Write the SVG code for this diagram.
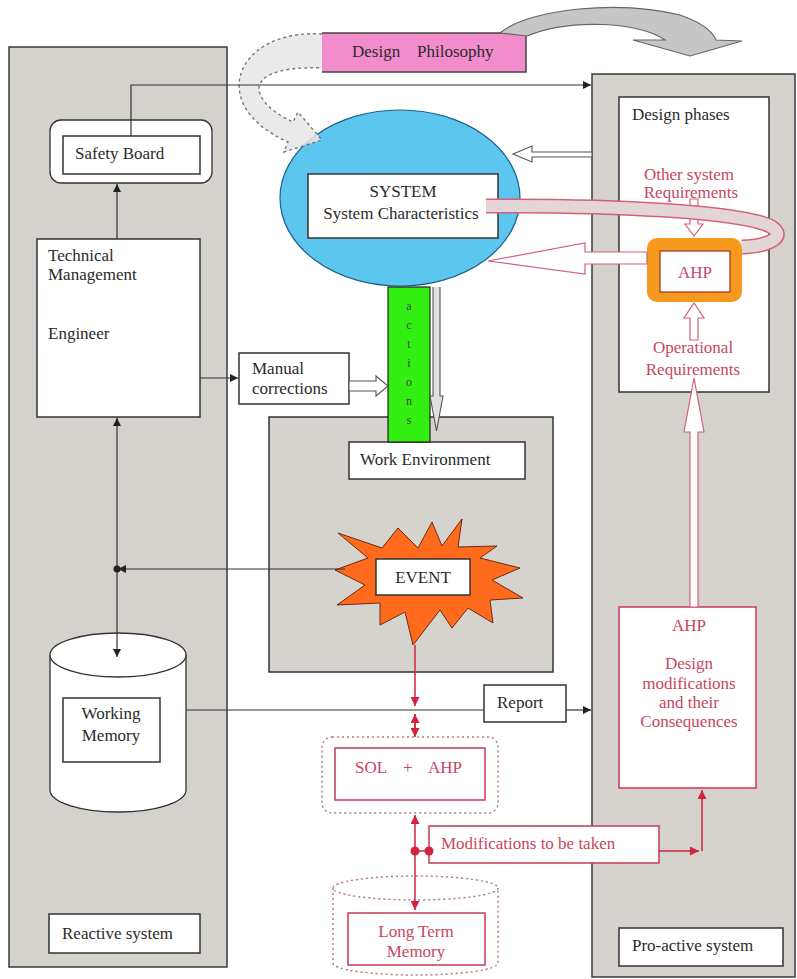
<svg xmlns="http://www.w3.org/2000/svg" width="797" height="979" viewBox="0 0 797 979">
  <defs>
    <style>
      .t{font-family:"Liberation Serif","Times New Roman",serif;font-size:17px;fill:#2b2b2b}
      .r{fill:#c8465e}
      .c{text-anchor:middle}
      .small{font-size:12px;fill:#444}
      .panel{fill:#d5d1cc;stroke:#3a3a3a;stroke-width:1.5}
      .box{fill:#fff;stroke:#333;stroke-width:1.5}
      .rbox{fill:#fff;stroke:#c83a55;stroke-width:1.5}
      .ln{fill:none;stroke:#333;stroke-width:1.2}
      .rln{fill:none;stroke:#d0243f;stroke-width:1.5}
      .dot{fill:none;stroke:#b07a88;stroke-width:1.5;stroke-dasharray:2 3}
      .hol{fill:#fff;stroke:#d4607a;stroke-width:1.2}
      .gholl{fill:#fff;stroke:#555;stroke-width:1.1}
    </style>
    <marker id="ah" viewBox="0 0 10 10" refX="10" refY="5" markerWidth="8" markerHeight="8" markerUnits="userSpaceOnUse" orient="auto-start-reverse">
      <path d="M0,0 L10,5 L0,10 z" fill="#222"/>
    </marker>
    <marker id="rh" viewBox="0 0 10 10" refX="10" refY="5" markerWidth="9" markerHeight="9" markerUnits="userSpaceOnUse" orient="auto-start-reverse">
      <path d="M0,0 L10,5 L0,10 z" fill="#d0243f"/>
    </marker>
  </defs>

  <rect width="797" height="979" fill="#fff"/>

  <!-- Reactive system panel -->
  <g id="reactive-panel">
    <rect class="panel" x="9" y="47" width="218" height="920"/>
  </g>

  <!-- Pro-active system panel -->
  <g id="proactive-panel">
    <rect class="panel" x="592" y="74" width="203" height="903"/>
  </g>

  <!-- Work environment block -->
  <g id="work-environment">
    <rect x="269" y="417" width="284" height="255" fill="#d6d2cd" stroke="#333" stroke-width="1.5"/>
    <rect class="box" x="349" y="442" width="176" height="37"/>
    <text class="t" x="360" y="465">Work Environment</text>
  </g>

  <!-- System ellipse -->
  <g id="system">
    <ellipse cx="400" cy="198" rx="120" ry="88" fill="#5cc6ee" stroke="#1d5f8f" stroke-width="1.2"/>
    <rect class="box" x="308" y="174" width="190" height="64"/>
    <text class="t c" x="403" y="197">SYSTEM</text>
    <text class="t c" x="401" y="219">System Characteristics</text>
  </g>

  <!-- Actions bar -->
  <g id="actions">
    <rect x="388" y="287" width="42" height="155" fill="#33ee11" stroke="#222" stroke-width="1.2"/>
    <text class="t small c" x="409" y="310">a</text>
    <text class="t small c" x="409" y="329">c</text>
    <text class="t small c" x="409" y="348">t</text>
    <text class="t small c" x="409" y="367">i</text>
    <text class="t small c" x="409" y="386">o</text>
    <text class="t small c" x="409" y="405">n</text>
    <text class="t small c" x="409" y="424">s</text>
  </g>

  <!-- Design philosophy -->
  <g id="design-philosophy">
    <rect x="322" y="33" width="204" height="39" fill="#f28ccd"/>
    <path d="M322,33 H526 V72 H322" fill="none" stroke="#444" stroke-width="1.5"/>
    <text class="t" x="352" y="57">Design</text>
    <text class="t" x="417" y="57">Philosophy</text>
  </g>

  <!-- Safety board -->
  <g id="safety-board">
    <rect x="50" y="120" width="162" height="63" rx="11" fill="#fff" stroke="#333" stroke-width="1.3"/>
    <rect class="box" x="63" y="136" width="137" height="38"/>
    <text class="t" x="75" y="159">Safety Board</text>
  </g>

  <!-- Technical management -->
  <g id="technical-management">
    <rect class="box" x="37" y="239" width="163" height="178"/>
    <text class="t" x="48" y="261">Technical</text>
    <text class="t" x="48" y="280">Management</text>
    <text class="t" x="48" y="339">Engineer</text>
  </g>

  <!-- Manual corrections -->
  <g id="manual-corrections">
    <rect class="box" x="239" y="353" width="110" height="51"/>
    <text class="t" x="252" y="374">Manual</text>
    <text class="t" x="252" y="394">corrections</text>
  </g>

  <!-- Working memory cylinder -->
  <g id="working-memory">
    <path d="M50,655 V790 A68,22 0 0 0 186,790 V655" fill="#fff" stroke="#333" stroke-width="1.3"/>
    <ellipse cx="118" cy="655" rx="68" ry="22" fill="#fff" stroke="#333" stroke-width="1.3"/>
    <rect class="box" x="63" y="698" width="97" height="64"/>
    <text class="t c" x="111" y="719">Working</text>
    <text class="t c" x="111" y="741">Memory</text>
  </g>

  <!-- Reactive system label -->
  <g id="reactive-label">
    <rect class="box" x="49" y="914" width="151" height="39"/>
    <text class="t" x="62" y="939">Reactive system</text>
  </g>

  <!-- Event -->
  <g id="event">
    <polygon points="462,519 458,547 497,546 480,558 520,568 492,580 523,598 490,600 493,623 468,608 452,628 440,610 413,645 405,612 380,625 380,603 337,605 365,585 335,570 368,558 338,533 382,548 398,528 418,548 432,522 442,546" fill="#ff6a1c" stroke="#6b2a10" stroke-width="1"/>
    <rect class="box" x="376" y="559" width="94" height="36"/>
    <text class="t c" x="423" y="583">EVENT</text>
  </g>

  <!-- Report -->
  <g id="report">
    <rect class="box" x="484" y="685" width="82" height="37"/>
    <text class="t" x="497" y="708">Report</text>
  </g>

  <!-- SOL + AHP -->
  <g id="sol-ahp">
    <rect class="dot" x="322" y="737" width="176" height="76" rx="10"/>
    <rect class="rbox" x="335" y="748" width="150" height="52"/>
    <text class="t r" y="773"><tspan x="355">SOL</tspan><tspan x="403">+</tspan><tspan x="428">AHP</tspan></text>
  </g>

  <!-- Long term memory -->
  <g id="long-term-memory">
    <path class="dot" d="M333,888 V963 A82.5,12 0 0 0 498,963 V888"/>
    <ellipse class="dot" cx="415.5" cy="888" rx="82.5" ry="12"/>
    <rect class="rbox" x="348" y="913" width="137" height="52"/>
    <text class="t r c" x="416" y="937">Long Term</text>
    <text class="t r c" x="416" y="957">Memory</text>
  </g>

  <!-- Modifications to be taken -->
  <g id="modifications">
    <rect class="rbox" x="429" y="826" width="230" height="37"/>
    <text class="t r" x="441" y="849">Modifications to be taken</text>
  </g>

  <!-- Design phases -->
  <g id="design-phases">
    <rect class="box" x="619" y="97" width="150" height="295"/>
    <text class="t" x="632" y="120">Design phases</text>
    <text class="t r c" x="689" y="180">Other system</text>
    <text class="t r c" x="691" y="198">Requirements</text>
    <text class="t r c" x="693" y="353">Operational</text>
    <text class="t r c" x="693" y="375">Requirements</text>
  </g>

  <!-- AHP within design phases -->
  <g id="ahp-top">
    <rect x="647" y="238" width="95" height="64" rx="10" fill="#f59a1e"/>
    <rect x="660" y="251" width="70" height="41" fill="#fff" stroke="#a03020" stroke-width="1.2"/>
    <text class="t r c" x="695" y="278">AHP</text>
  </g>

  <!-- AHP design modifications -->
  <g id="ahp-modifications">
    <rect class="rbox" x="619" y="607" width="137" height="181"/>
    <text class="t r c" x="689" y="631">AHP</text>
    <text class="t r c" x="689" y="669">Design</text>
    <text class="t r c" x="689" y="689">modifications</text>
    <text class="t r c" x="689" y="708">and their</text>
    <text class="t r c" x="689" y="727">Consequences</text>
  </g>

  <!-- Pro-active system label -->
  <g id="proactive-label">
    <rect class="box" x="619" y="928" width="164" height="38"/>
    <text class="t" x="632" y="951">Pro-active system</text>
  </g>

  <!-- Connectors -->
  <g id="connectors">
    <!-- philosophy flows to the design phases -->
    <path d="M500,33 C530,8 620,0 680,15 C700,22 712,30 716,40 L742,41 L690,56 L633,40 L665,40 C640,22 570,18 527,36 Z" fill="#c6c6c6" stroke="#666" stroke-width="1.2"/>
    <!-- philosophy shapes the system (dashed) -->
    <path d="M322,34 C255,30 222,75 248,112 C258,125 270,134 288,142 L284,152 L322,140 L298,112 L293,122 C280,116 268,108 262,98 C250,78 275,66 322,68" fill="#e6e6e6" fill-opacity="0.85" stroke="#777" stroke-width="1.4" stroke-dasharray="3 3"/>

    <!-- safety board reports to design phases -->
    <path class="ln" d="M131,136 V85 H591" marker-end="url(#ah)"/>
    <!-- technical management to safety board -->
    <path class="ln" d="M117,239 V184" marker-end="url(#ah)"/>
    <!-- technical management to manual corrections -->
    <path class="ln" d="M200,378 H238" marker-end="url(#ah)"/>
    <!-- technical management / working memory -->
    <path class="ln" d="M117,418 V657" marker-start="url(#ah)" marker-end="url(#ah)"/>
    <!-- event feedback -->
    <path class="ln" d="M345,569 H118" marker-end="url(#ah)"/>
    <circle cx="117" cy="569" r="3.5" fill="#222"/>
    <!-- working memory report -->
    <path class="ln" d="M186,710 H484"/>
    <path class="ln" d="M566,710 H591" marker-end="url(#ah)"/>

    <!-- design phases back to the system -->
    <path class="gholl" d="M592,152 H532 V146 L513,154 L532,162 V157 H592 Z"/>
    <!-- actions to work environment -->
    <path d="M433,287 V396 H430 L436.5,431 L443,396 H440 V287" fill="#e0e0e0" stroke="#555" stroke-width="1.1"/>
    <!-- manual corrections into actions -->
    <path class="gholl" d="M349,381 H376 V376 L388,386 L376,396 V391 H349 Z"/>

    <!-- requirement arrows -->
    <path class="hol" d="M690,199 V224 H685 L694,236 L703,224 H698 V199 Z"/>
    <path class="hol" d="M690,340 V318 H684 L694,303 L704,318 H698 V340 Z"/>
    <path class="hol" d="M690,607 V432 H684 L694,378 L704,432 H698 V607 Z"/>
    <!-- AHP result to the system -->
    <path class="hol" d="M647,252 H585 V243 L488,261 L585,274 V264 H647 Z"/>
    <!-- system characteristics into AHP -->
    <path d="M486,206 C620,205 740,212 770,226 C788,236 770,246 742,247" fill="none" stroke="#d4607a" stroke-width="15"/>
    <path d="M486,206 C620,205 740,212 770,226 C788,236 770,246 742,247" fill="none" stroke="#e4d6d6" stroke-width="12"/>

    <!-- event to SOL + AHP -->
    <path class="rln" d="M415,645 V706" marker-end="url(#rh)"/>
    <path class="rln" d="M415,736 V714" marker-end="url(#rh)"/>
    <path class="rln" d="M415,714 V737" marker-end="url(#rh)"/>
    <!-- SOL + AHP / long term memory -->
    <path class="rln" d="M415,815 V910" marker-start="url(#rh)" marker-end="url(#rh)"/>
    <circle cx="415" cy="851" r="4.5" fill="#d0243f"/>
    <circle cx="429" cy="851" r="4.5" fill="#d0243f"/>
    <path class="rln" d="M418,851 H426"/>
    <!-- modifications to design modifications -->
    <path class="rln" d="M659,851 H699" marker-end="url(#rh)"/>
    <path class="rln" d="M702,851 V790" marker-end="url(#rh)"/>
  </g>
</svg>
